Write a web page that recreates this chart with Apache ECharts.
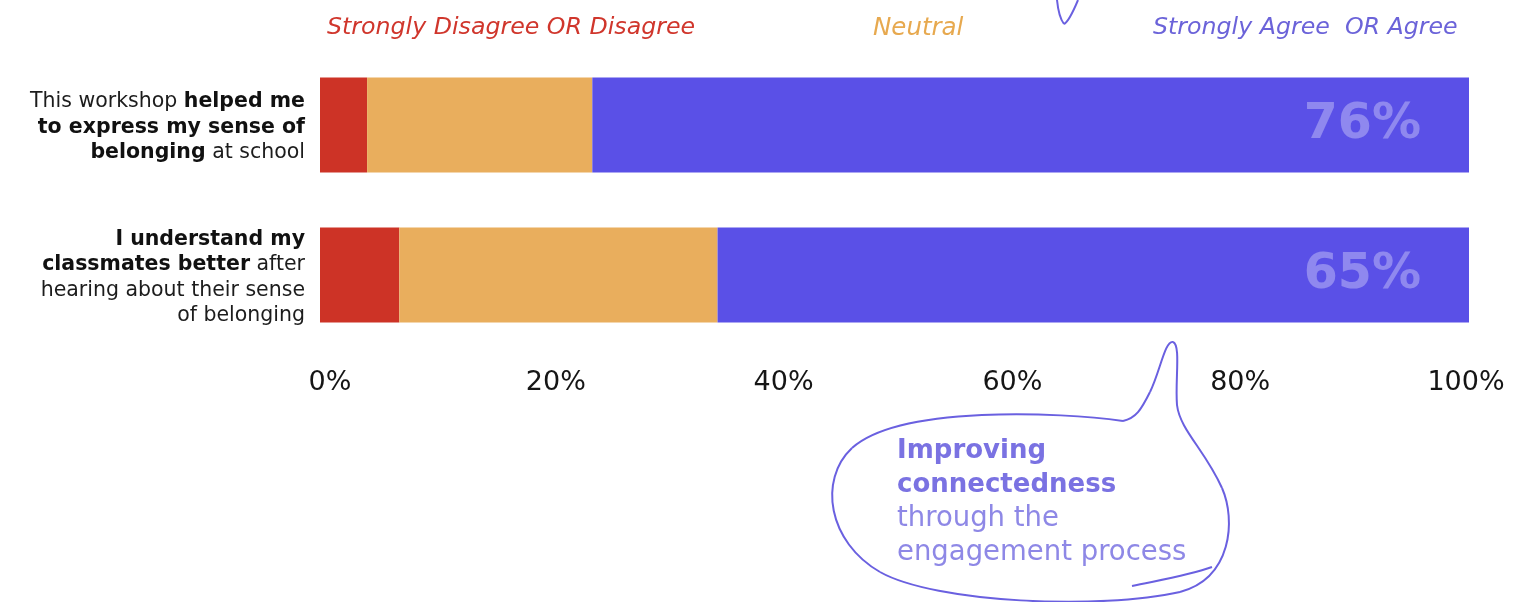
<!DOCTYPE html>
<html>
<head>
<meta charset="utf-8">
<script src="https://cdn.jsdelivr.net/npm/echarts@6/dist/echarts.min.js"></script>
<style>
html,body{margin:0;padding:0;background:#fff;}
#chart{width:1535px;height:602px;}
</style>
</head>
<body>
<div id="chart"></div>
<script>
const categories = [
  '{n|This workshop }{b|helped me}\n{b|to express my sense of}\n{b|belonging}{n| at school}',
  '{b|I understand my}\n{b|classmates better}{n| after}\n{n|hearing about their sense}\n{n|of belonging}'
];
const seriesNames = ['Strongly Disagree OR Disagree', 'Neutral', 'Strongly Agree  OR Agree'];
const disagree = [4.1, 6.9];
const neutral = [19.6, 27.7];
const agree = [76.3, 65.4];
const FONT = 'DejaVu Sans';

const chart = echarts.init(document.getElementById('chart'));
const colors = ['#cd3326', '#e9ae5d', '#5a50e7'];
const legendColors = ['#d0362c', '#e7a94f', '#6b63d9'];
const legendLefts = [322, 868, 1148];
const tickShift = { 0: 20, 20: 12, 40: 8, 60: 6, 80: 2, 100: -6 };

// decorative hand-drawn speech bubble strokes (cubic segments: x1,y1,cp1x,cp1y,cp2x,cp2y,x2,y2)
const curves = [
  [1057,0, 1058,10, 1060,19, 1064,24],
  [1064,24, 1068,22, 1073,12, 1078,0],
  [1123,421, 1060,412, 900,405, 852,448],
  [852,448, 818,480, 828,542, 880,572],
  [880,572, 935,603, 1100,610, 1180,592],
  [1180,592, 1232,578, 1236,520, 1222,488],
  [1222,488, 1205,450, 1180,430, 1177,405],
  [1177,405, 1175,380, 1181,345, 1173,342],
  [1173,342, 1165,340, 1160,372, 1150,392],
  [1150,392, 1141,410, 1136,418, 1123,421],
  [1132,586, 1160,580, 1190,575, 1212,567]
];
const curveEls = curves.map(c => ({
  type: 'bezierCurve',
  shape: { x1: c[0], y1: c[1], cpx1: c[2], cpy1: c[3], cpx2: c[4], cpy2: c[5], x2: c[6], y2: c[7] },
  style: { fill: null, stroke: '#6a60e0', lineWidth: 2 }
}));

const tickRich = {};
Object.keys(tickShift).forEach(k => {
  const s = tickShift[k];
  tickRich['t' + k] = {
    fontFamily: FONT, fontSize: 27, color: '#151515',
    padding: s >= 0 ? [0, 0, 0, s] : [0, -s, 0, 0]
  };
});

chart.setOption({
  animation: false,
  backgroundColor: '#ffffff',
  legend: seriesNames.map((n, i) => ({
    data: [n],
    left: legendLefts[i],
    top: 16,
    padding: 0,
    itemWidth: 0,
    itemHeight: 0,
    selectedMode: false,
    icon: 'rect',
    textStyle: { color: legendColors[i], fontFamily: FONT, fontStyle: 'italic', fontSize: i === 1 ? 24.5 : 23.7 }
  })),
  grid: { left: 320, right: 66, top: 50, bottom: 252 },
  xAxis: {
    type: 'value', min: 0, max: 100, interval: 20,
    axisLine: { show: false }, axisTick: { show: false }, splitLine: { show: false },
    axisLabel: {
      formatter: v => '{t' + v + '|' + v + '%}',
      rich: tickRich, fontFamily: FONT, fontSize: 27, color: '#151515', margin: 19
    }
  },
  yAxis: {
    type: 'category', inverse: true, data: categories,
    axisLine: { show: false }, axisTick: { show: false },
    axisLabel: {
      margin: 15, align: 'right', padding: [5, 0, 0, 0],
      rich: {
        n: { fontFamily: FONT, fontSize: 20.5, color: '#1c1c1c', lineHeight: 25.5, align: 'right' },
        b: { fontFamily: FONT, fontSize: 20.5, fontWeight: 'bold', color: '#111', lineHeight: 25.5, align: 'right' }
      }
    }
  },
  series: [
    { name: seriesNames[0], type: 'bar', stack: 't', barWidth: 95, data: disagree, itemStyle: { color: colors[0] } },
    { name: seriesNames[1], type: 'bar', stack: 't', barWidth: 95, data: neutral, itemStyle: { color: colors[1] } },
    { name: seriesNames[2], type: 'bar', stack: 't', barWidth: 95, data: agree, itemStyle: { color: colors[2] },
      label: { show: true, position: 'insideRight', distance: 48,
        formatter: p => Math.round(p.value) + '%',
        color: 'rgba(255,255,255,0.32)', fontFamily: FONT, fontWeight: 'bold', fontSize: 49 } }
  ],
  graphic: curveEls.concat([
    { type: 'text', left: 897, top: 438,
      style: { text: '{b|Improving}\n{b|connectedness}\n{n|through the}\n{n|engagement process}',
        rich: {
          b: { fontFamily: FONT, fontSize: 26, fontWeight: 'bold', fill: '#7a72e2', lineHeight: 34 },
          n: { fontFamily: FONT, fontSize: 27.5, fill: '#8e88e6', lineHeight: 34 }
        } } }
  ])
});
</script>
</body>
</html>
